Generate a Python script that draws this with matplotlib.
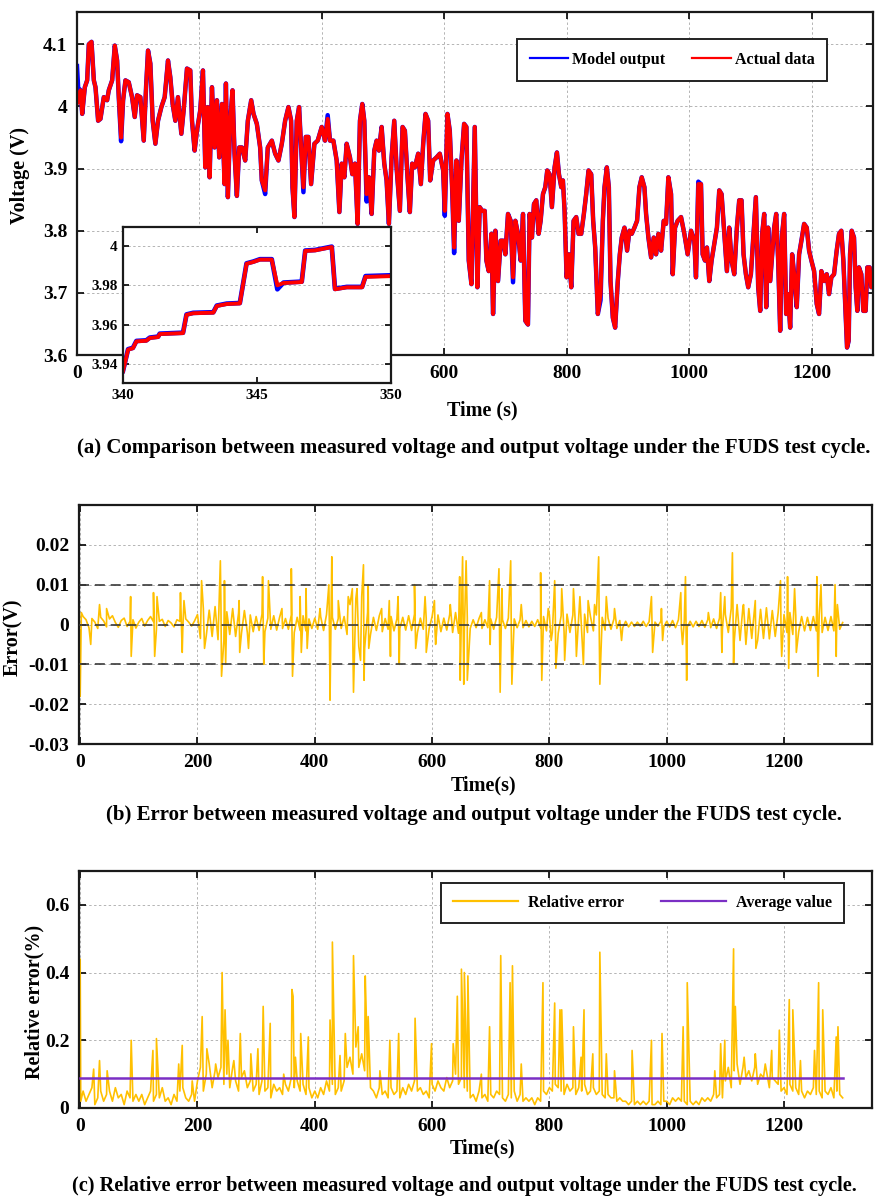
"""FUDS test cycle: terminal voltage fit, absolute error and relative error.

Three stacked panels in the MATLAB look of the source paper: measured vs model
voltage (with a zoomed inset over 340-350 s), the absolute error, and the
relative error with its average value.  All values were read off the figure.
"""

import numpy as np
import matplotlib
matplotlib.use("Agg")
import matplotlib.pyplot as plt  # noqa: E402
from matplotlib.ticker import FuncFormatter  # noqa: E402

plt.rcParams["font.family"] = ["Liberation Serif", "DejaVu Serif"]
plt.rcParams["font.weight"] = "bold"

# ------ (a) measured terminal voltage, traced (s, V) ------
VOLT_T = [
    0, 1.9, 5.8, 8.5, 12.8, 16.6, 19.3, 23.7, 27.5, 30.2, 34.5, 38.3, 43.8, 49.2, 51.9,
    57.4, 61.7, 65.5, 68.2, 72.0, 75.3, 79.1, 84.5, 89.9, 94.3, 98.1, 103.5, 109.0,
    112.8, 116.0, 119.8, 123.6, 128.0, 132.3, 137.8, 143.2, 148.6, 152.4, 156.2, 160.6,
    164.9, 170.4, 174.2, 179.6, 185.0, 187.8, 192.1, 195.9, 201.3, 205.7, 209.5, 213.3,
    216.6, 220.4, 224.7, 228.5, 232.3, 236.7, 241.0, 243.2, 246.4, 250.2, 254.0, 257.3,
    261.1, 264.9, 269.3, 274.7, 279.0, 284.5, 288.3, 293.7, 299.1, 301.8, 307.3, 311.6,
    318.2, 323.6, 329.0, 334.5, 339.9, 345.3, 349.7, 351.9, 355.1, 358.9, 362.7, 366.0,
    369.8, 373.6, 377.9, 382.3, 387.7, 393.1, 399.7, 405.1, 409.4, 413.2, 418.7, 424.1,
    428.5, 432.3, 436.6, 440.4, 445.8, 449.6, 454.0, 458.3, 462.1, 465.9, 469.2, 473.0,
    476.8, 481.2, 485.5, 489.3, 493.1, 497.5, 501.8, 505.6, 509.4, 513.8, 518.1, 521.9,
    527.3, 531.7, 535.5, 539.8, 543.6, 547.4, 551.8, 557.2, 561.6, 565.4, 569.2, 573.5,
    576.8, 581.7, 587.1, 592.5, 598.0, 600.7, 605.0, 608.8, 612.6, 615.9, 619.7, 623.5,
    627.9, 632.2, 636.0, 639.8, 644.2, 649.6, 653.9, 657.7, 661.6, 665.9, 668.6, 672.4,
    676.8, 679.5, 683.3, 687.6, 692.0, 695.8, 699.6, 703.9, 708.3, 712.1, 715.9, 720.2,
    724.6, 728.4, 732.2, 736.5, 739.2, 743.0, 746.3, 750.1, 753.9, 757.2, 761.0, 764.8,
    768.0, 771.8, 775.6, 780.0, 783.8, 787.1, 790.9, 793.6, 796.3, 799.6, 803.4, 807.2,
    811.0, 815.3, 819.1, 823.5, 827.8, 831.6, 835.4, 839.8, 843.0, 846.3, 850.6, 855.0,
    858.8, 861.5, 865.3, 868.6, 871.3, 875.1, 878.9, 883.2, 886.5, 889.7, 894.1, 898.4,
    902.2, 906.0, 910.4, 914.7, 918.5, 922.3, 926.7, 929.4, 933.2, 937.6, 941.9, 945.7,
    949.5, 953.9, 958.2, 962.0, 965.8, 970.2, 972.9, 976.7, 981.0, 986.5, 991.9, 997.3,
    1002.8, 1008.2, 1010.9, 1014.7, 1019.1, 1021.8, 1025.6, 1028.8, 1032.6, 1036.4,
    1040.8, 1045.1, 1048.9, 1052.7, 1057.1, 1061.4, 1065.2, 1069.0, 1073.4, 1077.7,
    1081.5, 1085.3, 1088.6, 1092.4, 1096.2, 1100.6, 1104.9, 1108.7, 1112.5, 1115.8,
    1119.0, 1122.3, 1125.6, 1128.8, 1132.1, 1135.3, 1138.6, 1141.9, 1145.1, 1148.4,
    1151.6, 1154.9, 1158.2, 1161.4, 1164.7, 1167.9, 1171.2, 1175.5, 1179.3, 1183.1,
    1187.5, 1191.8, 1195.6, 1199.4, 1203.8, 1208.1, 1211.9, 1215.7, 1220.1, 1224.4,
    1228.2, 1232.0, 1236.4, 1240.7, 1244.5, 1248.3, 1251.6, 1254.9, 1257.6, 1260.3,
    1262.5, 1265.2, 1269.0, 1271.7, 1274.4, 1277.1, 1280.9, 1284.2, 1288.0, 1290.7,
    1294.5, 1297.2, 1300.0,
]
VOLT_ACTUAL = [
    4.005, 4.007, 4.026, 3.988, 4.031, 4.042, 4.100, 4.104, 4.042, 4.031, 3.977, 3.980,
    4.015, 4.010, 4.026, 4.042, 4.098, 4.074, 4.015, 3.950, 4.010, 4.042, 4.039, 4.015,
    3.983, 4.018, 4.015, 3.945, 4.031, 4.090, 4.069, 3.977, 3.940, 3.977, 3.999, 4.015,
    4.074, 4.047, 4.004, 3.977, 4.015, 3.956, 3.994, 4.061, 4.058, 3.977, 3.929, 3.961,
    3.994, 4.058, 3.902, 3.999, 3.886, 4.031, 3.934, 4.010, 3.918, 4.004, 3.875, 4.037,
    3.854, 3.977, 4.026, 3.924, 3.856, 3.934, 3.934, 3.913, 3.977, 4.010, 3.988, 3.972,
    3.934, 3.881, 3.865, 3.934, 3.945, 3.924, 3.913, 3.940, 3.977, 3.999, 3.977, 3.870,
    3.822, 3.977, 3.999, 3.934, 3.870, 3.951, 3.951, 3.875, 3.940, 3.945, 3.967, 3.945,
    3.980, 3.945, 3.945, 3.913, 3.830, 3.908, 3.886, 3.940, 3.918, 3.891, 3.908, 3.811,
    3.977, 4.004, 3.977, 3.859, 3.886, 3.827, 3.929, 3.945, 3.929, 3.967, 3.908, 3.881,
    3.811, 3.918, 3.977, 3.902, 3.832, 3.967, 3.961, 3.886, 3.830, 3.908, 3.902, 3.924,
    3.875, 3.940, 3.988, 3.977, 3.881, 3.913, 3.918, 3.924, 3.897, 3.832, 3.988, 3.961,
    3.870, 3.773, 3.913, 3.816, 3.913, 3.972, 3.967, 3.752, 3.714, 3.967, 3.709, 3.838,
    3.832, 3.832, 3.752, 3.735, 3.795, 3.666, 3.800, 3.719, 3.784, 3.784, 3.762, 3.827,
    3.816, 3.725, 3.816, 3.795, 3.752, 3.827, 3.655, 3.649, 3.827, 3.789, 3.843, 3.849,
    3.795, 3.816, 3.859, 3.870, 3.897, 3.891, 3.838, 3.902, 3.926, 3.891, 3.870, 3.881,
    3.832, 3.725, 3.762, 3.709, 3.816, 3.822, 3.795, 3.795, 3.827, 3.859, 3.897, 3.891,
    3.816, 3.773, 3.666, 3.698, 3.816, 3.870, 3.902, 3.870, 3.719, 3.660, 3.644, 3.719,
    3.762, 3.789, 3.805, 3.768, 3.800, 3.795, 3.805, 3.816, 3.870, 3.886, 3.870, 3.827,
    3.789, 3.757, 3.789, 3.762, 3.795, 3.768, 3.816, 3.811, 3.886, 3.859, 3.730, 3.805,
    3.816, 3.822, 3.795, 3.762, 3.800, 3.784, 3.725, 3.875, 3.875, 3.762, 3.752, 3.773,
    3.719, 3.752, 3.779, 3.805, 3.865, 3.859, 3.795, 3.735, 3.805, 3.752, 3.730, 3.805,
    3.849, 3.849, 3.762, 3.730, 3.709, 3.730, 3.795, 3.854, 3.709, 3.671, 3.795, 3.827,
    3.677, 3.805, 3.719, 3.762, 3.805, 3.827, 3.752, 3.639, 3.795, 3.827, 3.666, 3.698,
    3.644, 3.762, 3.730, 3.677, 3.762, 3.784, 3.811, 3.805, 3.768, 3.752, 3.735, 3.682,
    3.666, 3.735, 3.719, 3.730, 3.698, 3.725, 3.730, 3.768, 3.795, 3.800, 3.752, 3.677,
    3.612, 3.623, 3.762, 3.800, 3.789, 3.709, 3.671, 3.741, 3.730, 3.671, 3.671, 3.741,
    3.741, 3.709, 3.714,
]
# where the blue model trace shows past the red one (s -> V)
MODEL_DIFF_T = [0, 1.9, 72.0, 307.3, 369.8, 409.4, 473.0, 600.7, 615.9, 712.1, 855.0, 1014.7]
MODEL_DIFF_V = [4.065, 4.030, 3.944, 3.859, 3.862, 3.986, 3.847, 3.824, 3.764, 3.717, 3.688, 3.879]

# ------ inset: 340-350 s ------
INSET_T = [340.0, 340.19, 340.37, 340.5, 340.87, 341.0, 341.31, 341.37, 342.24, 342.37,
           342.62, 343.37, 343.5, 343.87, 344.36, 344.61, 344.86, 345.11, 345.55, 345.76,
           345.99, 346.67, 346.8, 347.17, 347.79, 347.91, 348.35, 348.92, 349.05, 350.0]
INSET_ACTUAL = [3.9363, 3.9473, 3.948, 3.9515, 3.9518, 3.9532, 3.9537, 3.9552, 3.9557,
                3.965, 3.9658, 3.9661, 3.9695, 3.9705, 3.9708, 3.991, 3.9919, 3.9931,
                3.9931, 3.98, 3.9812, 3.9817, 3.9975, 3.9978, 3.9995, 3.978, 3.979, 3.979,
                3.9843, 3.9847]
INSET_MODEL = [3.9365, 3.9475, 3.9482, 3.9517, 3.9520, 3.9534, 3.9539, 3.9554, 3.9559,
               3.9652, 3.9660, 3.9663, 3.9697, 3.9707, 3.9710, 3.9912, 3.9921, 3.9933,
               3.9933, 3.978, 3.9814, 3.9819, 3.9977, 3.9980, 3.9997, 3.9782, 3.9792,
               3.9792, 3.9847, 3.9851]

# ------ (b) error, 5 s background band (mV) + individual spikes ------
ERR_BASE_MV = [
    -1.5, 2.0, 1.2, -0.8, 1.5, 0.6, -1.0, 1.8, 0.9, -0.6,
    1.4, 2.2, 0.5, -0.7, 1.0, 1.6, -0.5, 0.8, 1.2, -0.9,
    0.6, 1.5, -0.4, 1.0, 2.0, 0.7, -1.2, 0.8, 1.3, -0.5,
    1.0, 0.4, -0.6, 1.2, 0.8, -0.9, 1.4, 0.6, -0.4, 0.9,
    2.5, -3.5, 4.0, -2.8, 3.6, -3.0, 4.5, -3.8, 5.0, -4.0,
    3.2, -2.5, 4.0, -3.0, 2.8, -2.2, 3.5, -2.0, 2.4, -1.8,
    2.0, -1.5, 2.6, -1.8, 1.6, -1.2, 2.2, -1.4, 1.8, -1.0,
    1.5, -1.2, 2.4, -2.0, 1.8, -1.5, 2.2, -1.6, 1.4, -1.0,
    1.6, -1.2, 2.0, -1.5, 2.5, -2.0, 1.8, -1.2, 1.5, -1.0,
    2.0, -2.5, 5.0, -6.0, 6.5, -5.5, 7.0, -6.0, 3.0, -2.5,
    1.8, -1.5, 2.2, -1.8, 1.5, -1.2, 2.0, -1.6, 1.4, -1.0,
    1.8, -1.4, 2.2, -1.5, 2.6, -2.0, 1.6, -1.2, 1.4, -1.0,
    2.0, -1.6, 2.4, -1.8, 1.6, -1.4, 2.5, -2.0, 3.0, -2.2,
    2.5, -2.0, 1.6, -1.0, 1.2, -0.8, 1.5, -1.0, 1.2, -0.8,
    1.4, -1.2, 1.8, -1.4, 1.2, -1.0, 1.6, -1.2, 1.4, -0.8,
    1.2, -0.8, 1.0, -0.6, 0.8, -0.5, 1.2, -0.8, 2.0, -1.6,
    2.4, -2.0, 2.8, -2.2, 2.2, -1.8, 2.6, -2.0, 2.4, -1.8,
    2.2, -1.8, 2.6, -2.0, 2.0, -1.6, 2.4, -2.0, 1.8, -1.4,
    1.6, -1.2, 1.4, -1.0, 1.0, -0.8, 0.8, -0.6, 0.6, -0.5,
    0.6, -0.4, 0.8, -0.5, 0.7, -0.5, 0.6, -0.4, 0.8, -0.6,
    0.8, -0.6, 1.0, -0.8, 1.2, -1.0, 1.0, -0.6, 0.8, -0.6,
    0.8, -0.5, 1.0, -0.7, 1.2, -0.8, 1.4, -1.0, 1.6, -1.2,
    2.5, -2.0, 4.0, -4.5, 5.0, -4.0, 4.5, -5.0, 4.0, -3.5,
    4.5, -4.0, 3.8, -3.5, 4.2, -3.6, 3.5, -3.0, 3.0, -2.5,
    2.5, -2.0, 3.0, -2.5, 2.2, -1.8, 2.0, -1.6, 1.8, -1.5,
    2.0, -1.6, 2.4, -2.0, 1.8, -1.5, 2.0, -1.6, 1.6, -1.2,
    0.5,
]
ERR_SPIKE_T = [
    0, 2, 18, 33, 45, 86, 87, 125, 127, 131, 171, 174, 177, 207, 212, 239, 241, 246, 248,
    271, 272, 287, 311, 313, 321, 344, 360, 362, 375, 377, 385, 387, 409, 424, 426, 429,
    440, 457, 464, 466, 472, 478, 483, 484, 491, 492, 514, 527, 529, 542, 544, 570, 572,
    588, 590, 604, 606, 631, 647, 648, 652, 654, 658, 660, 684, 698, 699, 714, 716, 719,
    734, 736, 752, 785, 787, 798, 803, 809, 811, 821, 826, 841, 846, 852, 858, 866, 877,
    884, 886, 897, 911, 923, 974, 976, 991, 993, 1024, 1027, 1032, 1034, 1071, 1092, 1094,
    1099, 1112, 1114, 1131, 1151, 1152, 1194, 1196, 1206, 1208, 1218, 1221, 1256, 1258,
    1263, 1287, 1289, 1291,
]
ERR_SPIKE_MV = [
    -18, 3, -5, 5, 4, 7, -8, 8, -8, 7, 8, -7, 6, 11, -6, 16, -13, 11, -10,
    6, -7, -6, 12, -10, 11, 4, 14, -13, 7, -7, 9, -6, 4, 10, -19, 17,
    6, 7, 9, -17, 9, -9, 15, -14, 10, -6, 4, 6, -8, 7, -10, 10, -6,
    7, -7, 6, -5, 5, 12, -14, 17, -15, 16, -14, 3, 11, -5, 14, -17, 9,
    16, -15, 5, 13, -14, 4, -4, 11, -11, 9, -9, 9, -8, 7, -10, 6, 5,
    17, -15, 7, 4, -4, 7, -7, 4, -4, 8, -5, 12, -14, 3, 8, -7,
    7, 18, -10, 5, 6, -6, 11, -8, 12, -11, 9, -7, 12, -13,
    10, 10, -8, 5,
]

# ------ (c) relative error (%), 5 s background + spikes ------
REL_BASE = [
    0.03, 0.05, 0.02, 0.04, 0.06, 0.01, 0.03, 0.05, 0.02, 0.04,
    0.05, 0.02, 0.06, 0.03, 0.04, 0.01, 0.05, 0.03, 0.02, 0.04,
    0.02, 0.04, 0.01, 0.03, 0.05, 0.02, 0.04, 0.03, 0.06, 0.02,
    0.03, 0.01, 0.04, 0.02, 0.05, 0.06, 0.03, 0.02, 0.04, 0.02,
    0.08, 0.12, 0.05, 0.10, 0.13, 0.06, 0.11, 0.09, 0.12, 0.07,
    0.10, 0.06, 0.12, 0.08, 0.05, 0.09, 0.11, 0.06, 0.08, 0.05,
    0.07, 0.04, 0.08, 0.05, 0.06, 0.03, 0.07, 0.05, 0.06, 0.04,
    0.07, 0.05, 0.09, 0.06, 0.08, 0.05, 0.07, 0.04, 0.06, 0.03,
    0.05, 0.03, 0.06, 0.04, 0.08, 0.05, 0.07, 0.04, 0.06, 0.05,
    0.08, 0.12, 0.15, 0.10, 0.18, 0.12, 0.16, 0.11, 0.09, 0.06,
    0.05, 0.03, 0.06, 0.04, 0.05, 0.03, 0.06, 0.04, 0.05, 0.03,
    0.06, 0.04, 0.07, 0.05, 0.08, 0.05, 0.06, 0.04, 0.05, 0.03,
    0.07, 0.05, 0.08, 0.06, 0.05, 0.09, 0.06, 0.08, 0.10, 0.07,
    0.09, 0.06, 0.05, 0.03, 0.04, 0.02, 0.05, 0.03, 0.04, 0.02,
    0.04, 0.03, 0.05, 0.04, 0.03, 0.02, 0.04, 0.03, 0.05, 0.02,
    0.04, 0.02, 0.03, 0.02, 0.03, 0.01, 0.03, 0.02, 0.05, 0.04,
    0.06, 0.05, 0.07, 0.06, 0.05, 0.04, 0.07, 0.05, 0.06, 0.04,
    0.06, 0.05, 0.07, 0.04, 0.05, 0.06, 0.04, 0.05, 0.04, 0.03,
    0.04, 0.03, 0.03, 0.02, 0.03, 0.02, 0.02, 0.01, 0.02, 0.01,
    0.02, 0.01, 0.02, 0.01, 0.02, 0.01, 0.01, 0.02, 0.01, 0.02,
    0.02, 0.01, 0.03, 0.02, 0.03, 0.02, 0.02, 0.01, 0.02, 0.01,
    0.02, 0.01, 0.03, 0.02, 0.03, 0.02, 0.04, 0.03, 0.04, 0.03,
    0.08, 0.12, 0.06, 0.11, 0.13, 0.07, 0.12, 0.09, 0.11, 0.08,
    0.12, 0.07, 0.10, 0.09, 0.11, 0.06, 0.09, 0.08, 0.07, 0.05,
    0.06, 0.04, 0.07, 0.05, 0.06, 0.04, 0.05, 0.03, 0.05, 0.04,
    0.06, 0.04, 0.05, 0.03, 0.05, 0.04, 0.06, 0.03, 0.05, 0.04,
    0.03,
]
REL_SPIKE_T = [
    0, 1, 23, 33, 46, 87, 124, 130, 168, 174, 191, 208, 216, 231, 242, 247, 252, 262,
    273, 291, 303, 312, 324, 347, 361, 363, 367, 376, 389, 426, 430, 443, 452, 466,
    474, 486, 488, 491, 511, 528, 543, 571, 599, 636, 643, 650, 655, 661, 684, 698,
    717, 733, 737, 752, 789, 809, 818, 821, 841, 854, 859, 874, 886, 897, 911, 941,
    974, 992, 1028, 1035, 1082, 1092, 1099, 1114, 1117, 1132, 1151, 1168, 1179, 1192,
    1209, 1215, 1228, 1252, 1259, 1266, 1289, 1292,
]
REL_SPIKE = [
    0.44, 0.02, 0.115, 0.14, 0.11, 0.20, 0.17, 0.205, 0.13, 0.185, 0.08, 0.27, 0.175,
    0.13, 0.40, 0.29, 0.20, 0.14, 0.22, 0.16, 0.175, 0.30, 0.25, 0.10, 0.35, 0.33,
    0.15, 0.22, 0.21, 0.26, 0.49, 0.155, 0.22, 0.45, 0.24, 0.39, 0.26, 0.27, 0.11,
    0.20, 0.22, 0.265, 0.19, 0.19, 0.33, 0.41, 0.40, 0.39, 0.10, 0.24, 0.45, 0.37,
    0.42, 0.13, 0.37, 0.31, 0.29, 0.29, 0.24, 0.15, 0.29, 0.16, 0.46, 0.16, 0.11,
    0.17, 0.20, 0.22, 0.24, 0.37, 0.11, 0.19, 0.20, 0.47, 0.30, 0.15, 0.16, 0.13,
    0.17, 0.23, 0.32, 0.29, 0.14, 0.17, 0.37, 0.29, 0.21, 0.24,
]
REL_AVERAGE = 0.088
REL_END = 1300

BLUE = "#0000FF"
RED = "#FF0000"
ORANGE = "#FFC000"
PURPLE = "#7B2FC4"
GRID = dict(color="#b4b4b4", linestyle=(0, (2.5, 2.5)), linewidth=0.7)

W, H = 879, 1199
TICK_FS = 14
LABEL_FS = 14.5
CAPTION_FS = 15


def fx(px):
    return px / W


def fy(py):
    return 1 - py / H


def g_fmt(v, _pos):
    return f"{v:g}"


def style_axes(ax, tick_size=TICK_FS, pad=7):
    for s in ax.spines.values():
        s.set_linewidth(1.6)
        s.set_color("#1a1a1a")
    ax.tick_params(direction="in", length=5, width=1.2, top=True, right=True,
                   labelsize=tick_size, pad=pad)
    for lab in ax.get_xticklabels() + ax.get_yticklabels():
        lab.set_fontweight("bold")
    ax.grid(True, **GRID)
    ax.set_axisbelow(True)


def merged(t_base, v_base, t_spk, v_spk):
    t = np.concatenate([t_base, np.asarray(t_spk, float)])
    v = np.concatenate([np.asarray(v_base, float), np.asarray(v_spk, float)])
    order = np.argsort(t, kind="stable")
    return t[order], v[order]


def legend_box(ax, anchor, size, **kw):
    leg = ax.legend(loc="upper left", bbox_to_anchor=anchor,
                    bbox_transform=ax.figure.transFigure, ncol=2, frameon=True,
                    fancybox=False, edgecolor="#222222", framealpha=1,
                    prop=dict(family="Liberation Serif", weight="bold", size=size),
                    borderaxespad=0, **kw)
    leg.get_frame().set_linewidth(1.4)
    for ln in leg.get_lines():
        ln.set_linewidth(1.6)
    return leg


def main():
    fig = plt.figure(figsize=(W / 100, H / 100), dpi=100)

    # ---------- (a) voltage ----------
    ax_a = fig.add_axes([fx(77), fy(355), fx(873 - 77), (355 - 12) / H])
    t_v = np.array(VOLT_T)
    v_act = np.array(VOLT_ACTUAL)
    v_mod = v_act.copy()
    for t, v in zip(MODEL_DIFF_T, MODEL_DIFF_V):
        v_mod[np.argmin(np.abs(t_v - t))] = v
    ax_a.plot(t_v, v_mod, color=BLUE, lw=3.2, label="Model output")
    ax_a.plot(t_v, v_act, color=RED, lw=2.9, label="Actual data")
    ax_a.set_xlim(0, 1300)
    ax_a.set_ylim(3.6, 4.152)
    ax_a.set_xticks(np.arange(0, 1201, 200))
    ax_a.set_yticks([3.6, 3.7, 3.8, 3.9, 4.0, 4.1])
    ax_a.yaxis.set_major_formatter(FuncFormatter(g_fmt))
    style_axes(ax_a)
    legend_box(ax_a, (fx(517), fy(39)), 11.5, handlelength=2.4, columnspacing=1.7,
               handletextpad=0.25, borderpad=0.8)

    # inset
    ax_i = fig.add_axes([fx(123), fy(383), fx(391 - 123), (383 - 227) / H])
    ax_i.set_zorder(5)
    ax_i.plot(INSET_T, INSET_MODEL, color=BLUE, lw=3.4)
    ax_i.plot(INSET_T, INSET_ACTUAL, color=RED, lw=2.8)
    ax_i.set_xlim(340, 350)
    ax_i.set_ylim(3.9303, 4.0097)
    ax_i.set_xticks([340, 345, 350])
    ax_i.set_yticks([3.94, 3.96, 3.98, 4.0])
    ax_i.yaxis.set_major_formatter(FuncFormatter(g_fmt))
    style_axes(ax_i, 11, pad=4)
    ax_i.grid(False)
    ax_i.grid(True, axis="y", **GRID)
    ax_i.tick_params(length=4)

    fig.text(fx(20), fy(175), "Voltage (V)", rotation=90, ha="center", va="center",
             fontsize=LABEL_FS, fontweight="bold")
    fig.text(fx(482), fy(410), "Time (s)", ha="center", va="center",
             fontsize=LABEL_FS, fontweight="bold")
    fig.text(fx(474), fy(448),
             "(a) Comparison between measured voltage and output voltage under the FUDS test cycle.",
             ha="center", va="center", fontsize=CAPTION_FS, fontweight="bold")

    # ---------- (b) error ----------
    ax_b = fig.add_axes([fx(79), fy(744), fx(872 - 79), (744 - 505) / H])
    t_grid = np.arange(0, 1301, 5, dtype=float)
    t_e, e_mv = merged(t_grid, ERR_BASE_MV, ERR_SPIKE_T, ERR_SPIKE_MV)
    ax_b.plot(t_e, e_mv / 1000.0, color=ORANGE, lw=1.2, zorder=2)
    for yv in (0.01, 0.0, -0.01):
        ax_b.axhline(yv, color="#3a3a3a", lw=1.2, dashes=(6, 3.5), zorder=3)
    ax_b.set_xlim(-2, 1350)
    ax_b.set_ylim(-0.03, 0.03)
    ax_b.set_xticks(np.arange(0, 1201, 200))
    ax_b.set_yticks([-0.03, -0.02, -0.01, 0, 0.01, 0.02])
    ax_b.yaxis.set_major_formatter(FuncFormatter(g_fmt))
    style_axes(ax_b)
    fig.text(fx(13), fy(637), "Error(V)", rotation=90, ha="center", va="center",
             fontsize=LABEL_FS, fontweight="bold")
    fig.text(fx(484), fy(785), "Time(s)", ha="center", va="center",
             fontsize=LABEL_FS, fontweight="bold")
    fig.text(fx(474), fy(815),
             "(b) Error between measured voltage and output voltage under the FUDS test cycle.",
             ha="center", va="center", fontsize=CAPTION_FS, fontweight="bold")

    # ---------- (c) relative error ----------
    ax_c = fig.add_axes([fx(79), fy(1108), fx(872 - 79), (1108 - 871) / H])
    t_r, r = merged(t_grid, REL_BASE, REL_SPIKE_T, REL_SPIKE)
    ax_c.plot(t_r, r, color=ORANGE, lw=1.2, label="Relative error", zorder=2)
    ax_c.plot([0, REL_END], [REL_AVERAGE, REL_AVERAGE], color=PURPLE, lw=1.8,
              label="Average value", zorder=3)
    ax_c.set_xlim(-2, 1350)
    ax_c.set_ylim(0, 0.7)
    ax_c.set_xticks(np.arange(0, 1201, 200))
    ax_c.set_yticks([0, 0.2, 0.4, 0.6])
    ax_c.yaxis.set_major_formatter(FuncFormatter(g_fmt))
    style_axes(ax_c)
    legend_box(ax_c, (fx(441), fy(883)), 11.5, handlelength=4.1, columnspacing=2.3,
               handletextpad=0.6, borderpad=0.75)
    fig.text(fx(34), fy(1002), "Relative error(%)", rotation=90, ha="center",
             va="center", fontsize=LABEL_FS, fontweight="bold")
    fig.text(fx(483), fy(1148), "Time(s)", ha="center", va="center",
             fontsize=LABEL_FS, fontweight="bold")
    fig.text(fx(72), fy(1186),
             "(c) Relative error between measured voltage and output voltage under the FUDS test cycle.",
             ha="left", va="center", fontsize=14.6, fontweight="bold")

    fig.savefig("out.png", dpi=100)


if __name__ == "__main__":
    main()
